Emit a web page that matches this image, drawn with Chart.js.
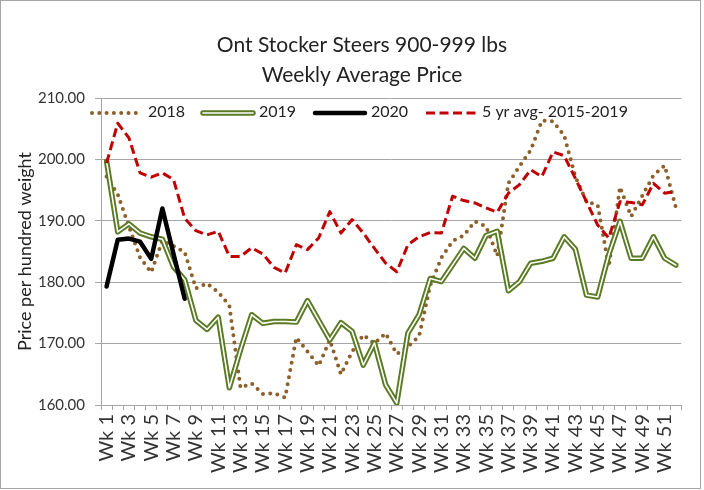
<!DOCTYPE html>
<html>
<head>
<meta charset="utf-8">
<title>Ont Stocker Steers 900-999 lbs</title>
<script src="https://cdn.jsdelivr.net/npm/chart.js@4.4.1/dist/chart.umd.min.js"></script>
<style>
  html, body { margin: 0; padding: 0; background: #fff; }
</style>
</head>
<body>
<canvas id="chart" width="704" height="490"></canvas>
<script>
// week categories
const weeks = [
  "Wk 1", "Wk 2", "Wk 3", "Wk 4", "Wk 5", "Wk 6", "Wk 7", "Wk 8", "Wk 9", "Wk 10",
  "Wk 11", "Wk 12", "Wk 13", "Wk 14", "Wk 15", "Wk 16", "Wk 17", "Wk 18", "Wk 19", "Wk 20",
  "Wk 21", "Wk 22", "Wk 23", "Wk 24", "Wk 25", "Wk 26", "Wk 27", "Wk 28", "Wk 29", "Wk 30",
  "Wk 31", "Wk 32", "Wk 33", "Wk 34", "Wk 35", "Wk 36", "Wk 37", "Wk 38", "Wk 39", "Wk 40",
  "Wk 41", "Wk 42", "Wk 43", "Wk 44", "Wk 45", "Wk 46", "Wk 47", "Wk 48", "Wk 49", "Wk 50",
  "Wk 51", "Wk 52"
];

// prices ($/cwt)
const price2018 = [
  197.2, 194.3, 189.1, 184.0, 181.6, 186.8, 185.9, 184.9, 179.0, 179.8,
  178.4, 176.2, 162.8, 163.5, 161.8, 161.9, 161.2, 171.0, 168.7, 166.4,
  170.6, 165.0, 168.7, 171.4, 170.0, 171.7, 168.3, 169.5, 171.2, 179.5,
  184.0, 186.7, 187.6, 189.9, 189.1, 184.3, 196.1, 198.9, 201.5, 206.3,
  206.2, 203.9, 197.2, 193.1, 192.6, 182.5, 195.5, 190.7, 194.1, 197.4,
  199.0, 192.2
];
const price2019 = [
  199.7, 188.2, 189.5, 188.0, 187.4, 187.0, 182.5, 180.4, 173.8, 172.3,
  174.3, 162.8, 169.0, 174.7, 173.3, 173.6, 173.6, 173.5, 177.0, 173.8,
  170.6, 173.4, 172.0, 166.5, 170.1, 163.3, 160.3, 171.7, 174.7, 180.6,
  180.1, 182.8, 185.5, 183.9, 187.6, 188.3, 178.6, 180.1, 183.1, 183.4,
  183.9, 187.4, 185.4, 177.9, 177.6, 184.5, 189.9, 183.9, 183.9, 187.4,
  183.9, 182.8
];
const price2020 = [179.3, 186.9, 187.1, 186.6, 183.8, 192.0, 184.6, 177.3];
const avg5yr = [
  199.4, 205.9, 203.5, 197.8, 197.1, 197.8, 196.7, 190.4, 188.4, 187.7,
  188.3, 184.2, 184.2, 185.6, 184.6, 182.4, 181.5, 186.1, 185.3, 187.2,
  191.5, 188.0, 190.2, 188.0, 185.5, 183.1, 181.7, 186.1, 187.4, 188.1,
  188.0, 194.0, 193.3, 192.9, 192.1, 191.4, 194.5, 195.9, 198.3, 197.2,
  201.2, 200.6, 196.9, 193.1, 189.3, 187.2, 193.1, 193.0, 192.6, 196.1,
  194.5, 194.8
];

const titleLines = ["Ont Stocker Steers 900-999 lbs", "Weekly Average Price"];
const fontFamily = "Lato, 'Liberation Sans', sans-serif";
const gridColor = "#A6A6A6";
const textColor = "#333333";

// legend sits inside the plot, like the Excel original
const legendSlots = [
  { label: "2018", x: 92 },
  { label: "2019", x: 203 },
  { label: "2020", x: 315 },
  { label: "5 yr avg- 2015-2019", x: 426 }
];

const excelDecor = {
  id: "excelDecor",
  beforeDraw(chart) {
    const ctx = chart.ctx;
    ctx.save();
    ctx.fillStyle = "#fff";
    ctx.fillRect(0, 0, chart.width, chart.height);
    ctx.strokeStyle = gridColor;
    ctx.lineWidth = 1;
    ctx.strokeRect(0.5, 0.5, 700, 488);
    ctx.restore();
  },
  afterDraw(chart) {
    const ctx = chart.ctx;
    ctx.save();
    ctx.fillStyle = "#222";
    ctx.textAlign = "center";
    ctx.textBaseline = "middle";
    ctx.font = "21px " + fontFamily;
    titleLines.forEach((t, i) => ctx.fillText(t, 362, 45 + i * 30));

    ctx.font = "16px " + fontFamily;
    ctx.textAlign = "left";
    legendSlots.forEach((slot) => {
      chart.data.datasets
        .filter((d) => d.label === slot.label)
        .sort((a, b) => b.order - a.order)
        .forEach((d) => {
          ctx.beginPath();
          ctx.strokeStyle = d.borderColor;
          ctx.lineWidth = d.borderWidth;
          ctx.setLineDash(d.borderDash || []);
          ctx.lineCap = d.borderCapStyle || "butt";
          ctx.moveTo(slot.x, 113);
          ctx.lineTo(slot.x + 50, 113);
          ctx.stroke();
        });
      ctx.setLineDash([]);
      ctx.fillStyle = "#222";
      ctx.fillText(slot.label, slot.x + 56, 112);
    });
    ctx.restore();
  }
};

const datasets = [
  {
    label: "5 yr avg- 2015-2019",
    data: avg5yr,
    borderColor: "#C00000",
    borderWidth: 3,
    borderDash: [9, 4.5],
    order: 0
  },
  {
    label: "2020",
    data: price2020,
    borderColor: "#000000",
    borderWidth: 4.5,
    borderCapStyle: "round",
    order: 1
  },
  {
    // white core of the double line
    label: "2019",
    data: price2019,
    borderColor: "#FFFFFF",
    borderWidth: 1.6,
    borderCapStyle: "round",
    order: 2
  },
  {
    label: "2019",
    data: price2019,
    borderColor: "#5B7A24",
    borderWidth: 5.5,
    borderCapStyle: "round",
    order: 3
  },
  {
    label: "2018",
    data: price2018,
    borderColor: "#8F5F2A",
    borderWidth: 4,
    borderDash: [0, 7.3],
    borderCapStyle: "round",
    order: 4
  }
];

new Chart(document.getElementById("chart"), {
  type: "line",
  data: { labels: weeks, datasets: datasets },
  options: {
    responsive: false,
    animation: false,
    events: [],
    layout: { padding: { top: 98, right: 21, left: 0, bottom: 0 } },
    elements: {
      point: { radius: 0 },
      line: { tension: 0, borderJoinStyle: "round", fill: false }
    },
    plugins: {
      legend: { display: false },
      title: { display: false },
      tooltip: { enabled: false }
    },
    scales: {
      x: {
        type: "category",
        offset: true,
        grid: { offset: true, drawOnChartArea: false, tickLength: 5, color: gridColor },
        border: { color: gridColor },
        ticks: {
          autoSkip: false,
          minRotation: 90,
          maxRotation: 90,
          padding: 4,
          color: textColor,
          font: { family: fontFamily, size: 20 },
          callback: (v, i) => (i % 2 === 0 ? weeks[i] : "")
        },
        afterFit: (scale) => { scale.height = 85; }
      },
      y: {
        min: 160,
        max: 210,
        grid: { color: gridColor, tickLength: 6 },
        border: { color: gridColor },
        ticks: {
          stepSize: 10,
          padding: 10,
          color: textColor,
          font: { family: fontFamily, size: 15 },
          callback: (v) => v.toFixed(2)
        },
        title: {
          display: true,
          text: "Price per hundred weight",
          color: "#222",
          padding: { top: 14 },
          font: { family: fontFamily, size: 18 }
        },
        afterFit: (scale) => { scale.width = 101; }
      }
    }
  },
  plugins: [excelDecor]
});
</script>
</body>
</html>
